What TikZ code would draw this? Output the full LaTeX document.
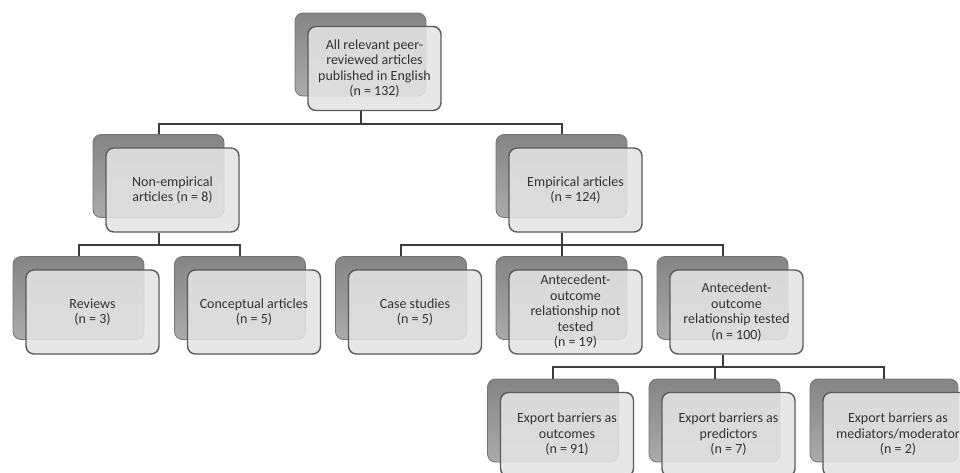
\documentclass[tikz,border=0pt]{standalone}
\usepackage{fontspec}
\setmainfont{Carlito}
\usetikzlibrary{positioning,calc}
\definecolor{boxline}{HTML}{5A5A5A}
\definecolor{boxfill}{HTML}{E4E4E4}
\definecolor{linkcol}{HTML}{3C3C3C}
\tikzset{
  backbox/.style={rectangle,rounded corners=8pt,minimum width=131pt,minimum height=83pt,
    draw=black!55,line width=0.8pt,top color=black!48,bottom color=black!33},
  frontbox/.style={rectangle,rounded corners=8pt,minimum width=133pt,minimum height=84pt,
    draw=boxline,line width=1.4pt,fill=boxfill,fill opacity=0.88,text opacity=1,
    align=center,text=black!80,font=\fontsize{14}{15.5}\selectfont,inner sep=2pt},
  link/.style={draw=linkcol,line width=2pt},
}
\begin{document}
\begin{tikzpicture}[x=1pt,y=-1pt]
  \useasboundingbox (0,0) rectangle (960,472);
  % back + front card for each box: name / x / y / width / text
  \foreach \nm/\cx/\cy/\w/\txt in {
      top/360.5/54.5/131/{All relevant peer-\\reviewed articles\\published in English\\(n = 132)},
      nonemp/158.5/176/131/{Non-empirical\\articles (n = 8)},
      emp/561.5/176/131/{Empirical articles\\(n = 124)},
      rev/78.5/298/131/{Reviews\\(n = 3)},
      conc/240/298/131/{Conceptual articles\\(n = 5)},
      case/401/298/131/{Case studies\\(n = 5)},
      ntest/561.5/298/131/{Antecedent-\\outcome\\relationship not\\tested\\(n = 19)},
      test/722.5/298/131/{Antecedent-\\outcome\\relationship tested\\(n = 100)},
      outc/553/420.5/131/{Export barriers as\\outcomes\\(n = 91)},
      pred/714.5/420.5/131/{Export barriers as\\predictors\\(n = 7)},
      med/884/420.5/148/{Export barriers as\\mediators/moderator\\(n = 2)}}{
    \node[backbox,minimum width=\w pt] (\nm-b) at (\cx,\cy) {};
    \node[frontbox,minimum width=\w pt+2pt] (\nm) at ($(\nm-b)+(14,14)$) {\txt};
  }
  % tree connectors
  \foreach \p/\c in {top/nonemp,top/emp,nonemp/rev,nonemp/conc,
                     emp/case,emp/ntest,emp/test,test/outc,test/pred,test/med}{
    \draw[link] (\p.south -| \p-b) -- ++(0,12.5) -| (\c-b.north);
  }
\end{tikzpicture}
\end{document}
